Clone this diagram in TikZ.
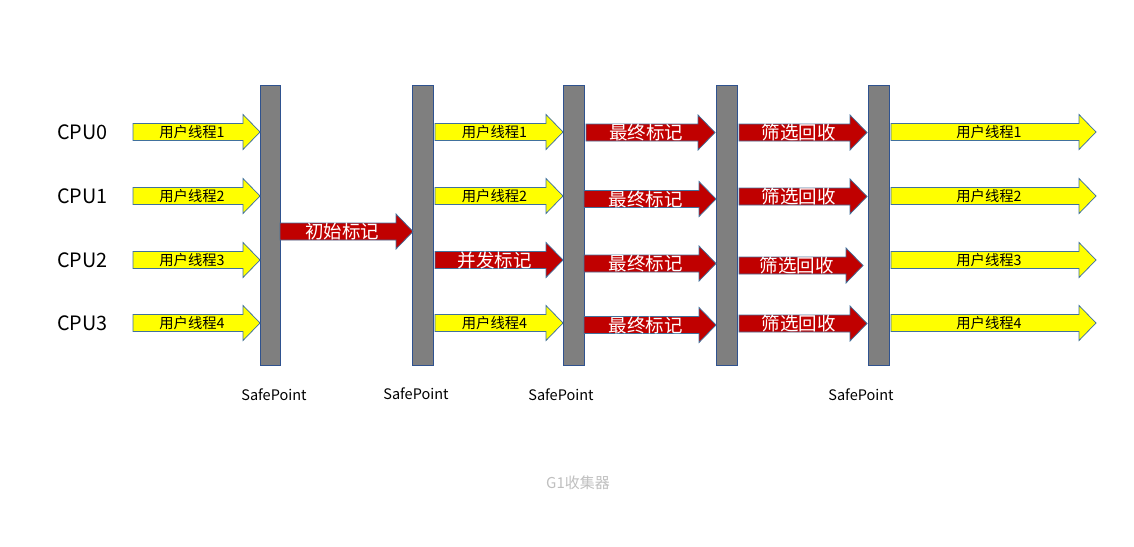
\documentclass[tikz,border=0pt]{standalone}
\usepackage{fontspec}
\setmainfont{Noto Sans CJK SC}
\definecolor{barfill}{RGB}{127,127,127}
\definecolor{barline}{RGB}{47,82,143}
\definecolor{arrline}{RGB}{65,113,156}
\definecolor{yfill}{RGB}{255,255,0}
\definecolor{rfill}{RGB}{192,0,0}
\definecolor{captiongray}{RGB}{191,191,191}
\tikzset{
  bar/.style={draw=barline, fill=barfill, line width=0.75pt},
  yarr/.style={draw=arrline, fill=yfill, line width=0.75pt, line join=miter},
  rarr/.style={draw=arrline, fill=rfill, line width=0.75pt, line join=miter},
  yarr text/.style={inner sep=0pt, text=black, font=\fontsize{14.3}{16}\selectfont},
  rarr text/.style={inner sep=0pt, text=white, font=\fontsize{18.5}{20}\selectfont},
  cpulabel/.style={inner sep=0pt, font=\fontsize{19.8}{22}\selectfont},
  splabel/.style={inner sep=0pt, font=\fontsize{14.5}{16}\selectfont},
  caption/.style={inner sep=0pt, text=captiongray, font=\fontsize{15}{17}\selectfont},
}
% #1 name, #2 style, #3 x start, #4 x tip, #5 y centre, #6 text
\newcommand{\harr}[6]{%
  \pgfmathsetmacro{\hx}{#4-17}%
  \pgfmathsetmacro{\ta}{#5-8.5}\pgfmathsetmacro{\tb}{#5+8.5}%
  \pgfmathsetmacro{\ha}{#5-17.5}\pgfmathsetmacro{\hb}{#5+17.5}%
  \pgfmathsetmacro{\tx}{(#3+#4-17)/2+4}%
  \draw[#2] (#3,\ta) -- (\hx,\ta) -- (\hx,\ha) -- (#4,#5) -- (\hx,\hb) -- (\hx,\tb) -- (#3,\tb) -- cycle;
  \node[#2 text] (#1) at (\tx,#5) {#6};%
}
\begin{document}
\begin{tikzpicture}[x=1pt,y=-1pt]
\useasboundingbox (0,0) rectangle (1134,546);
% safepoint bars
\draw[bar] (260,85) rectangle (280,365);
\draw[bar] (412,85) rectangle (433,365);
\draw[bar] (563,85) rectangle (584,365);
\draw[bar] (716,85) rectangle (737,365);
\draw[bar] (868,85) rectangle (889,365);
% CPU labels
\node[cpulabel] (cpu0) at (82.5,132) {CPU0};
\node[cpulabel] (cpu1) at (82.5,196) {CPU1};
\node[cpulabel] (cpu2) at (82.5,260) {CPU2};
\node[cpulabel] (cpu3) at (82.5,323) {CPU3};
% column 1
\harr{a10}{yarr}{133}{260}{132}{用户线程1}
\harr{a11}{yarr}{133}{260}{196}{用户线程2}
\harr{a12}{yarr}{133}{260}{260}{用户线程3}
\harr{a13}{yarr}{133}{260}{323}{用户线程4}
% initial mark
\harr{init}{rarr}{280}{413}{231.5}{初始标记}
% column 2
\harr{a20}{yarr}{435}{563}{132}{用户线程1}
\harr{a21}{yarr}{435}{563}{196}{用户线程2}
\harr{a22}{rarr}{435}{563}{260}{并发标记}
\harr{a23}{yarr}{435}{563}{323}{用户线程4}
% column 3
\harr{a30}{rarr}{586}{715}{132.5}{最终标记}
\harr{a31}{rarr}{584}{716}{199}{最终标记}
\harr{a32}{rarr}{584}{716}{263.5}{最终标记}
\harr{a33}{rarr}{584}{716}{325}{最终标记}
% column 4
\harr{a40}{rarr}{739}{867}{132.5}{筛选回收}
\harr{a41}{rarr}{739}{867}{196.5}{筛选回收}
\harr{a42}{rarr}{739}{863}{265.5}{筛选回收}
\harr{a43}{rarr}{739}{867}{323.5}{筛选回收}
% column 5
\harr{a50}{yarr}{891}{1096}{132}{用户线程1}
\harr{a51}{yarr}{891}{1096}{196}{用户线程2}
\harr{a52}{yarr}{891}{1096}{260}{用户线程3}
\harr{a53}{yarr}{891}{1096}{323}{用户线程4}
% SafePoint labels
\node[splabel] (sp1) at (274,395) {SafePoint};
\node[splabel] (sp2) at (416,394) {SafePoint};
\node[splabel] (sp3) at (561,395) {SafePoint};
\node[splabel] (sp4) at (861,395) {SafePoint};
% caption
\node[caption] (cap) at (578,483) {G1收集器};
\end{tikzpicture}
\end{document}
